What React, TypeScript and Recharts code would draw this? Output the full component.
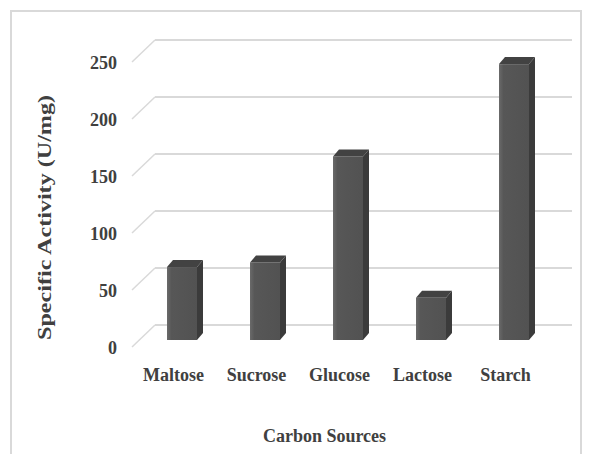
import { Bar, BarChart, CartesianGrid, XAxis, YAxis } from "recharts";

const categories = ["Maltose", "Sucrose", "Glucose", "Lactose", "Starch"];
const activity = [64, 68, 161, 37, 242];
const yTicks = [0, 50, 100, 150, 200, 250];

const data = categories.map((name, i) => ({ name, value: activity[i] }));

const ink = "#404040";
const gridColor = "#d9d9d9";
const depthX = 6;
const depthY = 7;

function Box3D(props: any) {
  const { x, y, width, height } = props;
  if (height <= 0) return null;
  const r = x + width;
  const b = y + height;
  return (
    <g>
      <rect x={x} y={y} width={width} height={height} fill="url(#barFront)" />
      <polygon
        points={`${r},${y} ${r + depthX},${y - depthY} ${r + depthX},${b - depthY} ${r},${b}`}
        fill="#3b3b3b"
      />
      <polygon
        points={`${x},${y} ${x + depthX},${y - depthY} ${r + depthX},${y - depthY} ${r},${y}`}
        fill="#424242"
      />
    </g>
  );
}

function backGridLine(p: any) {
  const { x1, x2, y1 } = p;
  return (
    <g key={`grid-${y1}`}>
      <line x1={x1 - 8} y1={y1 + 7} x2={x1 + 15} y2={y1 - 15} stroke={gridColor} strokeWidth={1.5} />
      <line x1={x1 + 15} y1={y1 - 15} x2={x2 + 17} y2={y1 - 15} stroke={gridColor} strokeWidth={2} />
    </g>
  );
}

function YTick(p: any) {
  return (
    <text
      x={117}
      y={p.y + 7.5}
      textAnchor="end"
      dominantBaseline="central"
      fontFamily="Liberation Serif"
      fontWeight="bold"
      fontSize={18}
      fill={ink}
    >
      {p.payload.value}
    </text>
  );
}

function XTick(p: any) {
  return (
    <text
      x={p.x - 8}
      y={p.y + 27}
      textAnchor="middle"
      dominantBaseline="central"
      fontFamily="Liberation Serif"
      fontWeight="bold"
      fontSize={18}
      fill={ink}
    >
      {p.payload.value}
    </text>
  );
}

function XTitle(p: any) {
  const vb = p.viewBox;
  return (
    <text
      x={vb.x + vb.width / 2 - 23}
      y={436}
      textAnchor="middle"
      dominantBaseline="central"
      fontFamily="Liberation Serif"
      fontWeight="bold"
      fontSize={18}
      fill={ink}
    >
      Carbon Sources
    </text>
  );
}

function YTitle(p: any) {
  const vb = p.viewBox;
  const cy = vb.y + vb.height / 2 + 20;
  return (
    <text
      x={45}
      y={cy}
      transform={`rotate(-90 45 ${cy})`}
      textAnchor="middle"
      dominantBaseline="central"
      fontFamily="Liberation Serif"
      fontWeight="bold"
      fontSize={18}
      textLength={245}
      lengthAdjust="spacingAndGlyphs"
      fill={ink}
    >
      Specific Activity (U/mg)
    </text>
  );
}

export default function App() {
  return (
    <div style={{ position: "absolute", left: 0, top: 0, width: 590, height: 454, background: "#fff" }}>
      <div
        style={{
          position: "absolute",
          left: 10,
          top: 10,
          width: 572,
          height: 460,
          border: `2px solid ${gridColor}`,
          boxSizing: "border-box",
        }}
      />
      <BarChart
        width={590}
        height={454}
        data={data}
        margin={{ top: 55, right: 35, bottom: 84, left: 80 }}
        barSize={30}
        style={{ position: "absolute", left: 0, top: 0 }}
      >
        <defs>
          <linearGradient id="barFront" x1="0" y1="0" x2="1" y2="0">
            <stop offset="0" stopColor="#6a6a6a" />
            <stop offset="0.15" stopColor="#575757" />
            <stop offset="1" stopColor="#525252" />
          </linearGradient>
        </defs>
        <CartesianGrid vertical={false} horizontal={backGridLine} />
        <XAxis
          dataKey="name"
          height={30}
          axisLine={false}
          tickLine={false}
          tick={XTick}
          interval={0}
          label={{ content: XTitle }}
        />
        <YAxis
          width={60}
          domain={[0, 250]}
          ticks={yTicks}
          axisLine={false}
          tickLine={false}
          tick={YTick}
          label={{ content: YTitle }}
        />
        <Bar dataKey="value" shape={Box3D} isAnimationActive={false} />
      </BarChart>
    </div>
  );
}
